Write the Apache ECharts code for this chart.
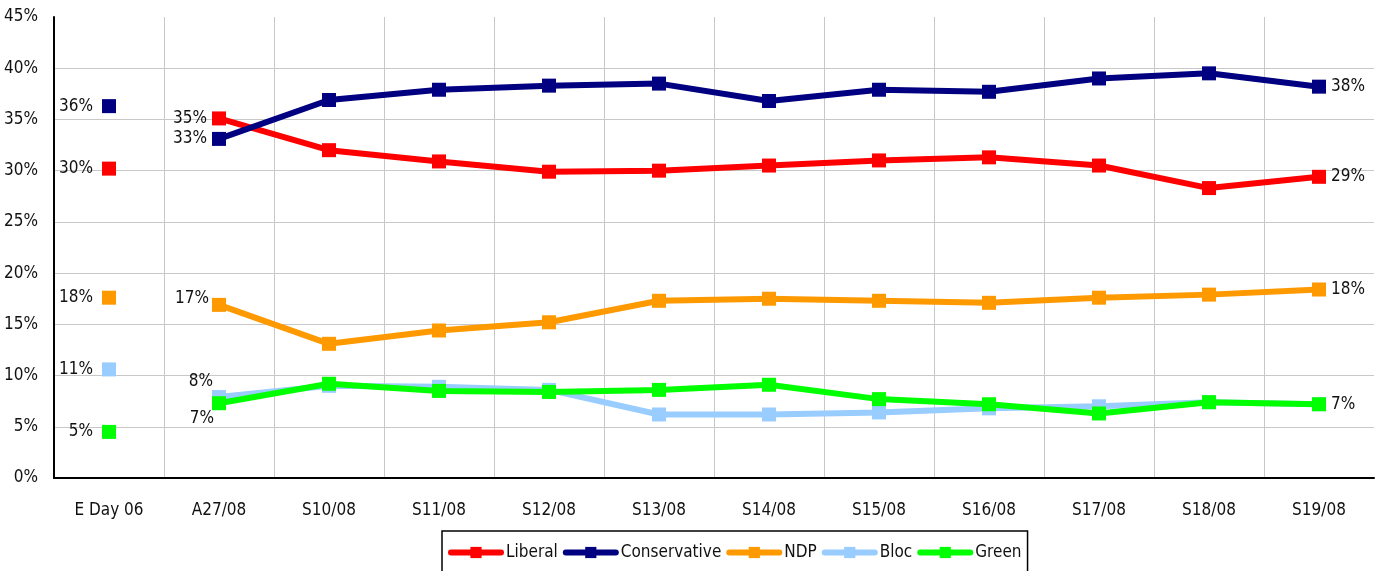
<!DOCTYPE html>
<html>
<head>
<meta charset="utf-8">
<script src="https://cdn.jsdelivr.net/npm/echarts@6/dist/echarts.min.js"></script>
<style>
  html, body { margin: 0; padding: 0; background: #fff; }
  #chart { width: 1375px; height: 571px; }
</style>
</head>
<body>
<div id="chart"></div>
<script>
// poll data
var categories = ['E Day 06', 'A27/08', 'S10/08', 'S11/08', 'S12/08', 'S13/08',
  'S14/08', 'S15/08', 'S16/08', 'S17/08', 'S18/08', 'S19/08'];
var parties = ['Liberal', 'Conservative', 'NDP', 'Bloc', 'Green'];

// election day 2006 result, one value per party
var eday = [30.2, 36.3, 17.6, 10.6, 4.5];

// tracking from A27/08 to S19/08
var liberal      = [35.1, 32.0, 30.9, 29.9, 30.0, 30.5, 31.0, 31.3, 30.5, 28.3, 29.4];
var conservative = [33.1, 36.9, 37.9, 38.3, 38.5, 36.8, 37.9, 37.7, 39.0, 39.5, 38.2];
var ndp          = [16.9, 13.1, 14.4, 15.2, 17.3, 17.5, 17.3, 17.1, 17.6, 17.9, 18.4];
var bloc         = [7.9, 9.0, 8.9, 8.6, 6.2, 6.2, 6.4, 6.8, 7.0, 7.4, 7.2];
var green        = [7.3, 9.2, 8.5, 8.4, 8.6, 9.1, 7.7, 7.2, 6.3, 7.4, 7.2];

var tracking = [liberal, conservative, ndp, bloc, green];
var colors = ['#ff0000', '#000080', '#ff9900', '#99ccff', '#00ff00'];

// label placement at first / last point (style only)
var firstOffset = [[0, 0], [0, 0], [2, -6], [6, -15], [7, 15]];
var showLast = [true, true, true, false, true];

var font = "'Liberation Sans Narrow', 'DejaVu Sans Condensed', 'Noto Sans', sans-serif";
var textColor = '#111';

function pct(p) {
  var v = Array.isArray(p.value) ? p.value[1] : p.value;
  return Math.round(v) + '%';
}

var series = [];
parties.forEach(function (name, i) {
  var vals = tracking[i];
  var data = [null];
  vals.forEach(function (v, k) {
    var item = { value: v };
    if (k === 0) {
      item.label = { show: true, position: 'left', offset: firstOffset[i] };
    } else if (k === vals.length - 1 && showLast[i]) {
      item.label = { show: true, position: 'right' };
    }
    data.push(item);
  });
  series.push({
    name: name,
    type: 'line',
    data: data,
    color: colors[i],
    symbol: 'rect',
    symbolSize: 14,
    showAllSymbol: true,
    lineStyle: { width: 6, color: colors[i] },
    itemStyle: { color: colors[i] },
    label: { fontFamily: font, fontSize: 17, color: textColor, formatter: pct, distance: 5 },
    emphasis: { disabled: true },
    animation: false
  });
});

// E Day points, drawn as lone markers
parties.forEach(function (name, i) {
  series.push({
    name: name,
    type: 'line',
    data: [eday[i]],
    color: colors[i],
    symbol: 'rect',
    symbolSize: 14,
    lineStyle: { width: 0 },
    itemStyle: { color: colors[i] },
    label: { show: true, position: 'left', distance: 9, fontFamily: font, fontSize: 17, color: textColor, formatter: pct },
    emphasis: { disabled: true },
    animation: false
  });
});

var chart = echarts.init(document.getElementById('chart'));
chart.setOption({
  animation: false,
  grid: { left: 54, right: 1, top: 17, bottom: 93, containLabel: false },
  xAxis: {
    type: 'category',
    data: categories,
    boundaryGap: true,
    axisLine: { lineStyle: { color: '#000', width: 2 } },
    axisTick: { show: false },
    axisLabel: { fontFamily: font, fontSize: 17, color: textColor, margin: 24, interval: 0 },
    splitLine: { show: true, showMaxLine: false, lineStyle: { color: '#c8c8c8', width: 1 } }
  },
  yAxis: {
    type: 'value',
    min: 0,
    max: 45,
    interval: 5,
    axisLine: { show: true, lineStyle: { color: '#000', width: 2 } },
    axisTick: { show: false },
    axisLabel: { fontFamily: font, fontSize: 17, color: textColor, margin: 16, formatter: '{value}%' },
    splitLine: { show: true, showMaxLine: false, lineStyle: { color: '#c8c8c8', width: 1 } }
  },
  legend: {
    data: parties,
    top: 531,
    left: 442,
    padding: [13, 6, 20, 6],
    borderColor: '#000',
    borderWidth: 1.5,
    itemGap: 5,
    itemWidth: 50,
    itemHeight: 14,
    lineStyle: { width: 6, cap: 'round' },
    textStyle: { fontFamily: font, fontSize: 17, color: textColor }
  },
  series: series
});
</script>
</body>
</html>
